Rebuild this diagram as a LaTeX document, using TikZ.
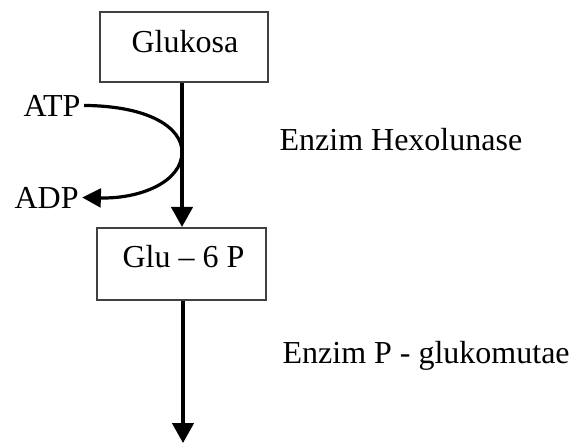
\documentclass[tikz,border=0pt]{standalone}
\usepackage{fontspec}
\setmainfont{Liberation Serif}
\usetikzlibrary{arrows.meta}
\begin{document}
\begin{tikzpicture}[x=0.75pt,y=-0.75pt,
  box/.style={draw=black!75,line width=1.6pt,inner sep=0pt},
  txt/.style={inner xsep=2.5pt,inner ysep=0pt,font=\fontsize{24}{28}\selectfont},
  arr/.style={line width=2.6pt,-{Triangle[width=16pt,length=15pt]}},
  crv/.style={line width=2.4pt,-{Triangle[width=14pt,length=14pt]}}]
\useasboundingbox (0,0) rectangle (571,443);
% boxes
\node[box,minimum width=126pt,minimum height=52.5pt] (gbox) at (184,47) {};
\node[box,minimum width=126.75pt,minimum height=54pt] (pbox) at (181.5,264) {};
% box texts
\node[txt,anchor=base west] (gtext) at (128,52) {Glukosa};
\node[txt,anchor=base west] (ptext) at (119,267) {Glu -- 6 P};
% side texts
\node[txt,anchor=base west] (atp) at (20,116) {ATP};
\node[txt,anchor=base west] (adp) at (11,208) {ADP};
\node[txt,anchor=base west] (enz1) at (276,150) {Enzim Hexolunase};
\node[txt,anchor=base west] (enz2) at (279,363) {Enzim P - glukomutae};
% coordinates
\coordinate (ax) at (182,0);
\coordinate (bx) at (183,0);
\coordinate (mid) at (182,152);
\coordinate (endp) at (183,443);
% arrows
\draw[arr] (gbox.south -| ax) -- (pbox.north -| ax);
\draw[arr] (pbox.south -| bx) -- (endp);
\draw[crv] (atp.east) .. controls (150,106) and (182,128) .. (mid)
  .. controls (182,182) and (140,199) .. (adp.east);
\end{tikzpicture}
\end{document}
